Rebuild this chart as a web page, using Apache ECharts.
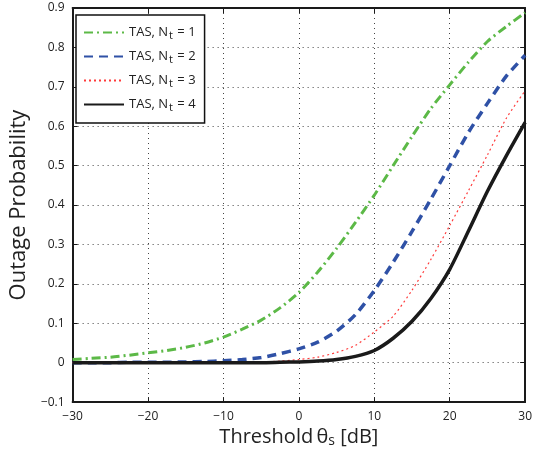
<!DOCTYPE html>
<html>
<head>
<meta charset="utf-8">
<script src="https://cdn.jsdelivr.net/npm/echarts@6/dist/echarts.min.js"></script>
<style>
  html, body { margin: 0; padding: 0; background: #fff; }
  #chart { width: 535px; height: 453px; }
</style>
</head>
<body>
<div id="chart"></div>
<script>
// Threshold values (dB)
var thresholds = [-30, -27.5, -25, -22.5, -20, -17.5, -15, -12.5, -10, -7.5, -5, -2.5, 0,
                  2.5, 5, 7.5, 10, 12.5, 15, 17.5, 20, 22.5, 25, 27.5, 30];

// Outage probability for each number of transmit antennas
var outageNt1 = [0.008, 0.011, 0.014, 0.019, 0.025, 0.031, 0.039, 0.050, 0.065, 0.085, 0.108, 0.139, 0.178,
                 0.230, 0.290, 0.356, 0.425, 0.500, 0.574, 0.645, 0.705, 0.763, 0.815, 0.853, 0.888];
var outageNt2 = [0.000, 0.000, 0.000, 0.001, 0.001, 0.001, 0.002, 0.003, 0.005, 0.008, 0.013, 0.023, 0.035,
                 0.052, 0.080, 0.122, 0.183, 0.255, 0.333, 0.415, 0.500, 0.585, 0.658, 0.727, 0.780];
var outageNt3 = [0.000, 0.000, 0.000, 0.000, 0.000, 0.000, 0.000, 0.000, 0.000, 0.001, 0.002, 0.004, 0.008,
                 0.014, 0.026, 0.044, 0.078, 0.118, 0.184, 0.262, 0.348, 0.437, 0.527, 0.620, 0.690];
var outageNt4 = [0.000, 0.000, 0.000, 0.000, 0.000, 0.000, 0.000, 0.000, 0.000, 0.000, 0.000, 0.001, 0.002,
                 0.004, 0.008, 0.016, 0.031, 0.062, 0.105, 0.163, 0.237, 0.335, 0.435, 0.525, 0.610];

var seriesNames = ['TAS, N{sub|t} = 1', 'TAS, N{sub|t} = 2', 'TAS, N{sub|t} = 3', 'TAS, N{sub|t} = 4'];
var xTicks = { min: -30, max: 30, step: 10 };
var yTicks = { min: -0.1, max: 0.9, step: 0.1 };

function pairs(ys) {
  return thresholds.map(function (x, i) { return [x, ys[i]]; });
}

function fmtTick(v) {
  var s = (Math.round(v * 10) / 10).toString();
  return s.replace('-', '\u2212');
}

var FONT = 'Open Sans';
var frameColor = '#1a1a1a';

function frameAxis(extra) {
  var base = {
    type: 'value',
    axisLine: { show: true, onZero: false, lineStyle: { color: frameColor, width: 2 } },
    axisTick: { show: true, inside: true, length: 5, lineStyle: { color: frameColor, width: 1 } },
    splitLine: { show: false },
    axisLabel: { show: false }
  };
  for (var k in extra) base[k] = extra[k];
  return base;
}

var chart = echarts.init(document.getElementById('chart'), null, { renderer: 'canvas' });

var option = {
  animation: false,
  backgroundColor: '#fff',
  grid: { left: 69, right: 6, top: 8, bottom: 50, containLabel: false },
  legend: {
    left: 76, top: 15,
    orient: 'vertical',
    backgroundColor: '#fff',
    borderColor: '#111',
    borderWidth: 1.5,
    borderRadius: 0,
    padding: [11, 9, 10, 7],
    itemGap: 9,
    itemWidth: 40,
    itemHeight: 16,
    itemStyle: { opacity: 0 },
    data: seriesNames,
    formatter: function (name) { return '{m|' + name.replace('{sub|t}', '}{sub|t}{m|') + '}'; },
    textStyle: {
      fontFamily: FONT, fontSize: 13, color: '#222',
      rich: {
        m: { fontFamily: FONT, fontSize: 13, color: '#222' },
        sub: { fontFamily: FONT, fontSize: 11, color: '#222', verticalAlign: 'bottom', padding: [6, 1, 0, 1] }
      }
    }
  },
  xAxis: [
    frameAxis({
      position: 'bottom',
      min: xTicks.min, max: xTicks.max, interval: xTicks.step,
      axisLabel: { show: true, formatter: fmtTick, fontFamily: FONT, fontSize: 12, color: '#222', margin: 8 },
      splitLine: { show: true, lineStyle: { color: '#444', type: [1, 4], width: 1 } },
      name: '{n|Threshold\u2009\u03b8}{s|s}{n| [dB]}',
      nameLocation: 'middle',
      nameGap: 22,
      nameTextStyle: {
        rich: {
          n: { fontFamily: FONT, fontSize: 20, color: '#222' },
          s: { fontFamily: FONT, fontSize: 14, color: '#222', verticalAlign: 'bottom', padding: [8, 0, 0, 0] }
        }
      }
    }),
    frameAxis({ position: 'top', min: xTicks.min, max: xTicks.max, interval: xTicks.step })
  ],
  yAxis: [
    frameAxis({
      position: 'left',
      min: yTicks.min, max: yTicks.max, interval: yTicks.step,
      axisLabel: { show: true, formatter: fmtTick, fontFamily: FONT, fontSize: 12, color: '#222', margin: 8 },
      splitLine: { show: true, lineStyle: { color: '#444', type: [1, 4], width: 1 } },
      name: 'Outage Probability',
      nameLocation: 'middle',
      nameGap: 34,
      nameTextStyle: { fontFamily: FONT, fontSize: 22, color: '#222' }
    }),
    frameAxis({ position: 'right', min: yTicks.min, max: yTicks.max, interval: yTicks.step })
  ],
  series: [
    {
      name: seriesNames[0], type: 'line', data: pairs(outageNt1), smooth: 0.25,
      showSymbol: false, symbol: 'none', color: '#5cb947',
      lineStyle: { color: '#5cb947', width: 3, type: [9, 4, 2, 4] }, z: 3
    },
    {
      name: seriesNames[1], type: 'line', data: pairs(outageNt2), smooth: 0.25,
      showSymbol: false, symbol: 'none', color: '#2f51a6',
      lineStyle: { color: '#2f51a6', width: 3.5, type: [9, 6] }, z: 4
    },
    {
      name: seriesNames[2], type: 'line', data: pairs(outageNt3), smooth: 0.25,
      showSymbol: false, symbol: 'none', color: '#ff3b3b',
      lineStyle: { color: '#ff3b3b', width: 1.2, type: [2, 3] }, z: 5
    },
    {
      name: seriesNames[3], type: 'line', data: pairs(outageNt4), smooth: 0.25,
      showSymbol: false, symbol: 'none', color: '#1a1a1a',
      lineStyle: { color: '#1a1a1a', width: 3.5, type: 'solid' }, z: 6
    }
  ]
};

chart.setOption(option);
</script>
</body>
</html>
